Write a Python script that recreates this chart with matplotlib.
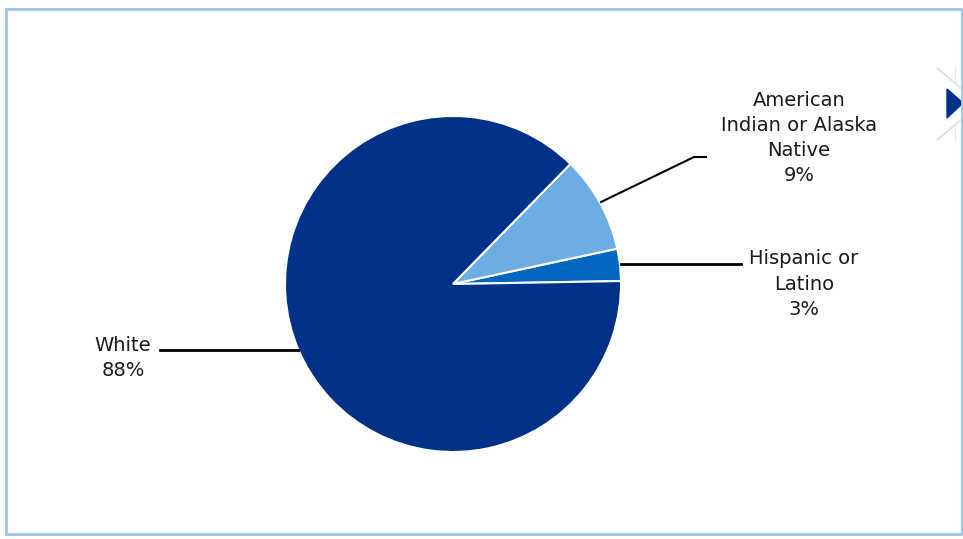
import matplotlib.pyplot as plt
from matplotlib.patches import Rectangle, Polygon

# shares (counter-clockwise from the right)
groups = ['Hispanic or\nLatino', 'American\nIndian or Alaska\nNative', 'White']
shares = [3.1, 9.3, 87.6]
pct_labels = ['3%', '9%', '88%']
colors = ['#0066C0', '#6CAEE4', '#003189']


def main():
    fig = plt.figure(figsize=(9.63, 5.39), dpi=100)
    ax = fig.add_axes([0, 0, 1, 1])

    H = 539
    cx, cy, r = 453, H - 284, 168
    ax.pie(shares, colors=colors, startangle=1, counterclock=True,
           center=(cx, cy), radius=r, frame=True,
           wedgeprops=dict(edgecolor='white', linewidth=1.5))
    ax.set_xlim(0, 963)
    ax.set_ylim(0, 539)
    ax.axis('off')

    # leader lines
    ax.plot([621, 741], [H - 264, H - 264], color='black', lw=2)
    ax.plot([601, 694, 706], [H - 202, H - 157, H - 157], color='black', lw=1.5)
    ax.plot([160, 298], [H - 350, H - 350], color='black', lw=2)

    fs = 14
    ls = 1.42
    ax.text(804, H - 284, groups[0] + '\n' + pct_labels[0], ha='center', va='center',
            fontsize=fs, linespacing=ls, color='#1a1a1a')
    ax.text(799, H - 138, groups[1] + '\n' + pct_labels[1], ha='center', va='center',
            fontsize=fs, linespacing=ls, color='#1a1a1a')
    ax.text(123, H - 358, groups[2] + '\n' + pct_labels[2], ha='center', va='center',
            fontsize=fs, linespacing=ls, color='#1a1a1a')

    # frame around the chart
    fig.patches.append(Rectangle((6 / 963, 1 - 534 / 539), 956 / 963, 525 / 539,
                                 transform=fig.transFigure, fill=False,
                                 edgecolor='#A0C4E8', lw=2))

    # partial navigation arrow at the right edge
    ax.plot([937, 963], [H - 68, H - 90], color='#C8D8EC', lw=0.8)
    ax.plot([937, 963], [H - 140, H - 118], color='#C8D8EC', lw=0.8)
    ax.plot([955, 955], [H - 68, H - 83], color='#E0E8F2', lw=0.8)
    ax.plot([955, 955], [H - 125, H - 140], color='#E0E8F2', lw=0.8)
    ax.add_patch(Polygon([[947, H - 89], [947, H - 118], [963, H - 103]],
                         closed=True, color='#003189'))

    fig.savefig('out.png', dpi=100)


if __name__ == '__main__':
    main()
